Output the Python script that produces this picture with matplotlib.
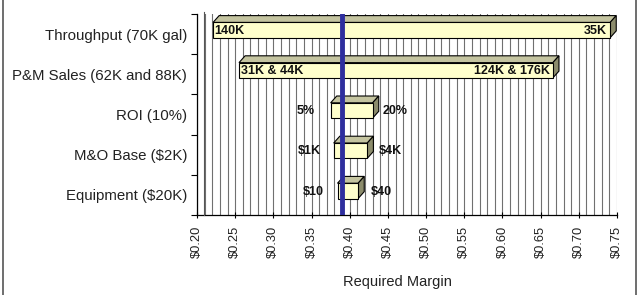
import matplotlib.pyplot as plt
from matplotlib.lines import Line2D
from matplotlib.patches import Polygon, Rectangle

plt.rcParams['font.family'] = ['Liberation Sans', 'DejaVu Sans']

# tornado chart data, top row first
categories = ['Throughput (70K gal)', 'P&M Sales (62K and 88K)', 'ROI (10%)',
              'M&O Base ($2K)', 'Equipment ($20K)']
low_values = [0.221, 0.255, 0.375, 0.379, 0.384]
high_values = [0.741, 0.666, 0.430, 0.423, 0.411]
low_labels = ['140K', '31K & 44K', '5%', '$1K', '$10']
high_labels = ['35K', '124K & 176K', '20%', '$4K', '$40']
base_margin = 0.390
x_ticks = [0.20, 0.25, 0.30, 0.35, 0.40, 0.45, 0.50, 0.55, 0.60, 0.65, 0.70, 0.75]

FRONT = '#FFFFCC'
TOP = '#C4C4A0'
SIDE = '#8C8C6C'
DX, DY = 0.008, 0.17      # fake 3d depth in data units
HALF_H, LIFT = 0.19, 0.10

fig = plt.figure(figsize=(6.42, 2.95), dpi=100)
ax = fig.add_axes([197 / 642, 1 - 215 / 295, 420 / 642, 201 / 295])
ax.set_xlim(0.20, 0.75)
ax.set_ylim(-0.5, len(categories) - 0.5)

# grid every cent
for i in range(56):
    ax.axvline(0.20 + i * 0.01, color='#707070', lw=0.8, zorder=1)

for row, (cat, lo, hi, ll, hl) in enumerate(zip(categories, low_values, high_values, low_labels, high_labels)):
    y = len(categories) - 1 - row + LIFT
    y0, y1 = y - HALF_H, y + HALF_H
    ax.add_patch(Polygon([(lo, y1), (lo + DX, y1 + DY), (hi + DX, y1 + DY), (hi, y1)],
                         closed=True, fc=TOP, ec='black', lw=0.8, zorder=3))
    ax.add_patch(Polygon([(hi, y0), (hi + DX, y0 + DY), (hi + DX, y1 + DY), (hi, y1)],
                         closed=True, fc=SIDE, ec='black', lw=0.8, zorder=3))
    ax.add_patch(Rectangle((lo, y0), hi - lo, y1 - y0, fc=FRONT, ec='black', lw=0.8, zorder=3))
    kw = dict(fontsize=9, fontweight='bold', va='center', zorder=4, color='#111111')
    if hi - lo > 0.1:
        ax.text(lo + 0.002, y - 0.02, ll, ha='left', **kw)
        ax.text(hi - 0.004, y - 0.02, hl, ha='right', **kw)
    else:
        ax.text(lo - 0.032, y - 0.02, ll, ha='center', **kw)
        ax.text(hi + 0.03, y - 0.02, hl, ha='center', **kw)

ax.axvline(base_margin, color='#2E2E9E', lw=3.5, zorder=5)

ax.set_yticks(range(len(categories)))
ax.set_yticklabels(categories[::-1], fontsize=10.8, color='#222222')
ax.set_yticks([i - 0.5 for i in range(len(categories) + 1)], minor=True)
ax.tick_params(axis='y', which='major', length=0, pad=7)
ax.tick_params(axis='y', which='minor', length=4, width=0.8, direction='out')

ax.set_xticks(x_ticks)
ax.set_xticklabels([f'${v:.2f}' for v in x_ticks], rotation=90, fontsize=9.3, color='#222222')
ax.tick_params(axis='x', length=4, width=0.8, direction='inout', pad=6)

for side in ['top', 'right']:
    ax.spines[side].set_visible(False)
for side in ['left', 'bottom']:
    ax.spines[side].set_linewidth(0.9)

# back wall edge
fig.add_artist(Line2D([204 / 642, 204 / 642], [1 - 215 / 295, 1 - 12 / 295], color='#555555', lw=0.8))

fig.text(397 / 642, 1 - 282 / 295, 'Required Margin', ha='center', va='center', fontsize=10.5, color='#222222')

# chart border
fig.add_artist(Line2D([3 / 642, 3 / 642], [0, 1], color='#555555', lw=1.2))
fig.add_artist(Line2D([636 / 642, 636 / 642], [0, 1], color='#555555', lw=1.2))

fig.savefig('out.png', dpi=100)
